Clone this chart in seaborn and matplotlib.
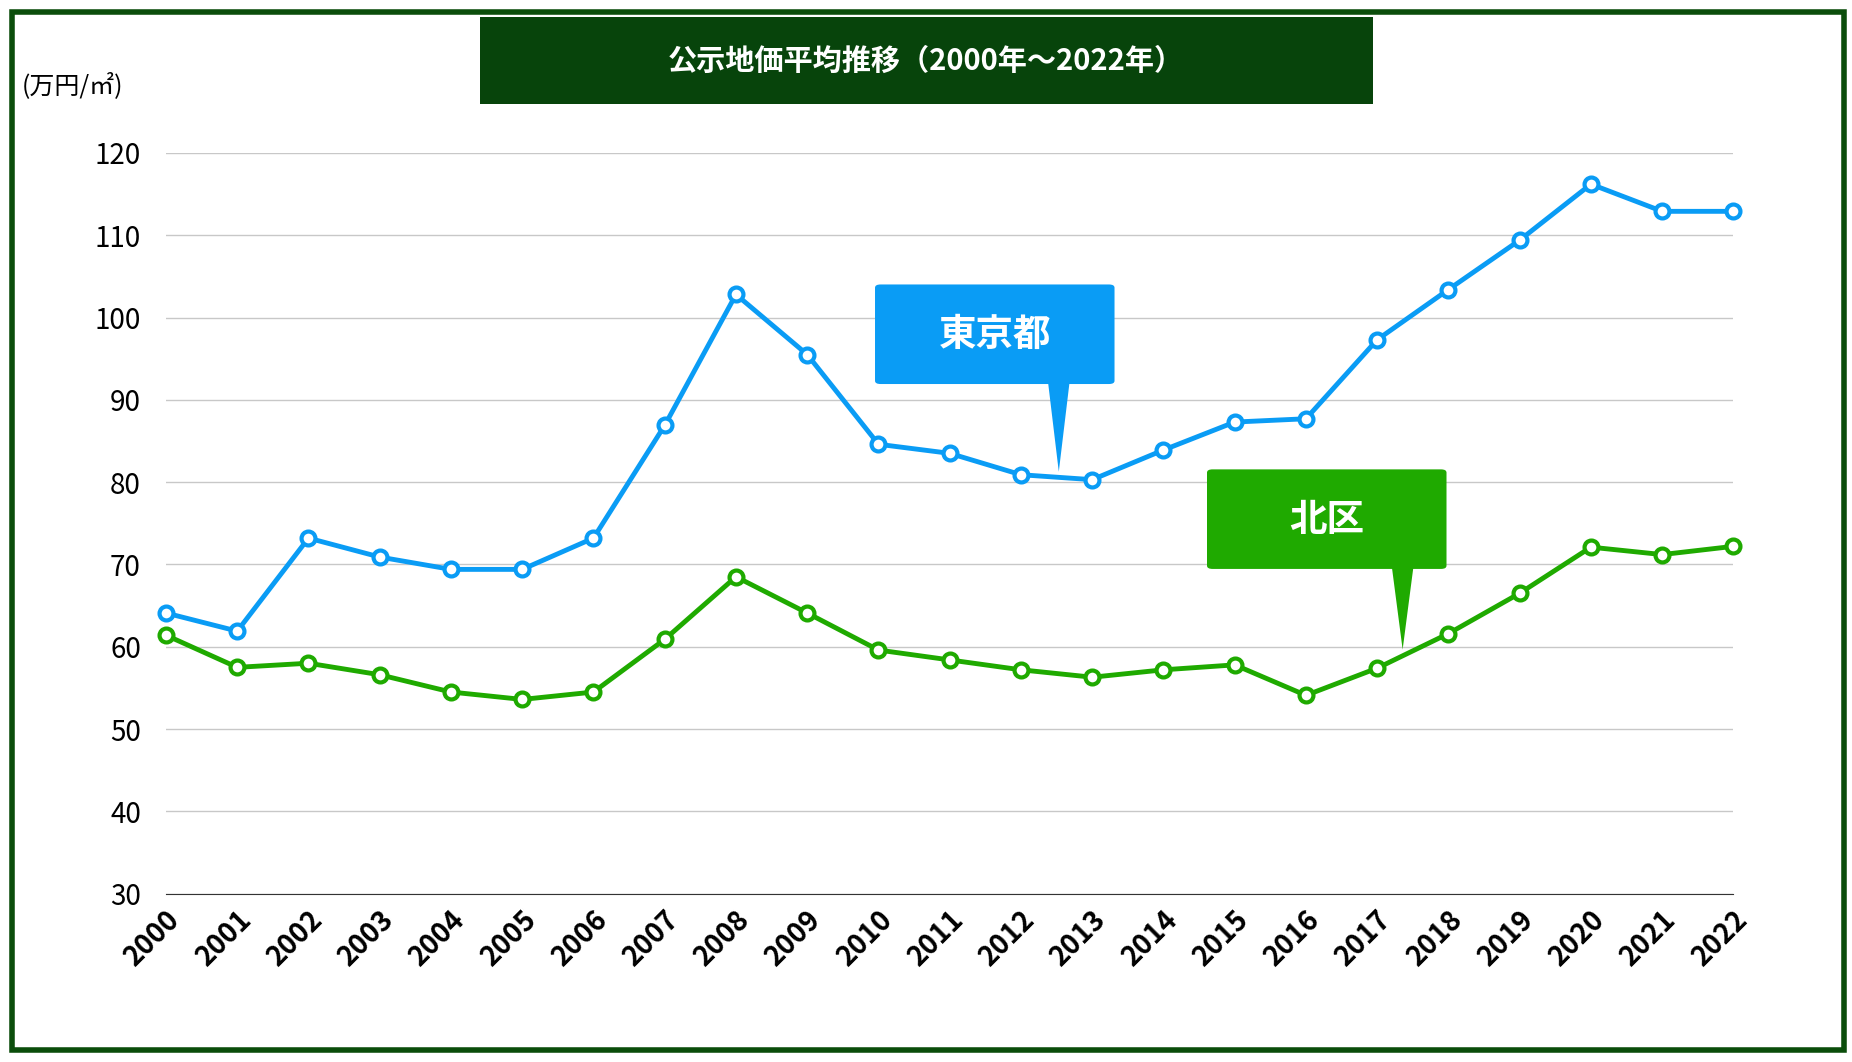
import matplotlib
matplotlib.use("Agg")
import matplotlib.pyplot as plt
from matplotlib.patches import Rectangle, FancyBboxPatch, Polygon
import seaborn as sns
import pandas as pd

years = list(range(2000, 2023))
tokyo = [64.1, 61.9, 73.2, 70.9, 69.4, 69.4, 73.2, 86.9, 102.8, 95.5, 84.6, 83.5,
         80.9, 80.3, 83.9, 87.3, 87.7, 97.3, 103.4, 109.4, 116.2, 112.9, 112.9]
kita = [61.4, 57.5, 58.0, 56.6, 54.5, 53.6, 54.5, 60.9, 68.5, 64.1, 59.6, 58.4,
        57.2, 56.3, 57.2, 57.8, 54.1, 57.4, 61.6, 66.5, 72.1, 71.2, 72.2]
yticks = list(range(30, 121, 10))

plt.rcParams["font.family"] = ["Noto Sans CJK JP", "DejaVu Sans"]
W, H = 1562, 896
fig = plt.figure(figsize=(18.52, 10.62), dpi=100)
ax = fig.add_axes([140/W, 1-754/H, (1462-140)/W, (754-129)/H])

df = pd.DataFrame({"year": years * 2, "value": tokyo + kita,
                   "series": ["東京都"] * 23 + ["北区"] * 23})
pal = {"東京都": "#0a9cf5", "北区": "#1faa00"}
sns.lineplot(data=df, x="year", y="value", hue="series", palette=pal, ax=ax,
             lw=3.5, marker="o", markersize=10, markerfacecolor="white",
             markeredgewidth=3, legend=False)
for l, c in zip(ax.lines, ["#0a9cf5", "#1faa00"]):
    l.set_markeredgecolor(c)
    l.set_clip_on(False)

ax.set_xlim(2000, 2022)
ax.set_ylim(30, 120)
ax.set_yticks(yticks)
ax.set_xticks(years)
ax.set_xticklabels([str(y) for y in years], rotation=45, ha="right",
                   rotation_mode="anchor", fontsize=20, fontweight="bold")
ax.tick_params(axis="y", labelsize=20, length=0, pad=18)
ax.tick_params(axis="x", length=0, pad=8)
ax.grid(axis="y", color="#c8c8c8", lw=1)
ax.set_axisbelow(True)
for s in ["top", "right", "left"]:
    ax.spines[s].set_visible(False)
ax.spines["bottom"].set_color("#333333")
ax.set_xlabel("")
ax.set_ylabel("")

def fx(x): return x / W
def fy(y): return 1 - y / H

# frame
fig.patches.append(Rectangle((fx(10), fy(886)), fx(1545), (876)/H, transform=fig.transFigure,
                             fill=False, ec="#0b4d0b", lw=4))
# title box
fig.patches.append(Rectangle((fx(405), fy(88)), fx(753), 74/H, transform=fig.transFigure,
                             fc="#07440b", ec="none"))
fig.text(fx(781), fy(51), "公示地価平均推移（2000年〜2022年）", color="white",
         fontsize=21, fontweight="bold", ha="center", va="center")
fig.text(fx(18), fy(72), "(万円/㎡)", fontsize=18, ha="left", va="center")

def callout(x0, y0, x1, y1, tip, px, color, text):
    fig.patches.append(FancyBboxPatch((fx(x0), fy(y1)), fx(x1-x0), (y1-y0)/H,
                       boxstyle="round,pad=0,rounding_size=0.003", transform=fig.transFigure,
                       fc=color, ec="none"))
    fig.patches.append(Polygon([(fx(px-9), fy(y1-1)), (fx(px+9), fy(y1-1)), (fx(tip[0]), fy(tip[1]))],
                       closed=True, transform=fig.transFigure, fc=color, ec="none"))
    fig.text(fx((x0+x1)/2), fy((y0+y1)/2), text, color="white", fontsize=27,
             fontweight="bold", ha="center", va="center")

callout(738, 240, 940, 324, (893, 398), 893, "#0a9cf5", "東京都")
callout(1018, 396, 1220, 480, (1183, 548), 1183, "#1faa00", "北区")

fig.savefig("out.png", dpi=100)
